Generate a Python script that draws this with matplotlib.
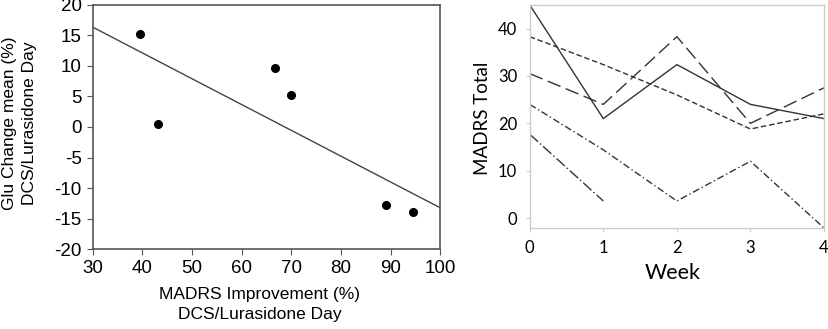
import numpy as np
import matplotlib.pyplot as plt

plt.rcParams['axes.unicode_minus'] = False

# left panel: MADRS improvement vs Glu change
madrs_impr = [39.5, 43.2, 66.7, 70.0, 89.0, 94.5]
glu_change = [15.3, 0.5, 9.7, 5.2, -12.8, -14.0]

# right panel: MADRS totals per week
weeks = [0, 1, 2, 3, 4]
subj_solid = [45.0, 21.0, 32.4, 24.0, 21.0]
subj_longdash = [30.5, 24.0, 38.3, 20.0, 27.5]
subj_shortdash = [38.3, 32.4, 26.0, 18.8, 22.0]
subj_dashdot = [24.0, 14.4, 3.6, 12.0, -2.1]
subj_dashdot2 = [17.7, 3.6]

fig = plt.figure(figsize=(8.29, 3.29), dpi=100)

# ---- left scatter ----
ax1 = fig.add_axes([0.112, 0.243, 0.419, 0.742])
ax1.plot(madrs_impr, glu_change, 'o', color='black', markersize=5.5)
slope, icpt = np.polyfit(madrs_impr, glu_change, 1)
xx = np.array([30, 100])
ax1.plot(xx, slope * xx + icpt, color='#444444', lw=1)
ax1.set_xlim(30, 100)
ax1.set_ylim(-20, 20)
ax1.set_xticks(range(30, 101, 10))
ax1.set_yticks(range(-20, 21, 5))
for s in ax1.spines.values():
    s.set_color('#555555')
    s.set_linewidth(1.2)
ax1.tick_params(labelsize=13.5, length=4, color='#555555', pad=4)
for lab in ax1.get_xticklabels() + ax1.get_yticklabels():
    lab.set_family('Liberation Sans')
ax1.set_ylabel('Glu Change mean (%)\nDCS/Lurasidone Day', fontsize=12.5,
               family='Liberation Sans', linespacing=1.45)
ax1.yaxis.set_label_coords(-0.16, 0.515)
ax1.set_xlabel('MADRS Improvement (%)\nDCS/Lurasidone Day', fontsize=12.5,
               family='Liberation Sans', linespacing=1.45)
ax1.xaxis.set_label_coords(0.48, -0.155)

# ---- right lines ----
ax2 = fig.add_axes([0.639, 0.307, 0.355, 0.678])
lc = '#333333'
ax2.plot(weeks, subj_solid, color=lc, lw=1)
ax2.plot(weeks, subj_longdash, color=lc, lw=1, dashes=(10, 4))
ax2.plot(weeks, subj_shortdash, color=lc, lw=1, dashes=(4, 2))
ax2.plot(weeks, subj_dashdot, color=lc, lw=1, dashes=(5, 2, 1, 2))
ax2.plot(weeks[:2], subj_dashdot2, color=lc, lw=1, dashes=(8, 2, 1, 2))
ax2.set_xlim(0, 4)
ax2.set_ylim(-2.1, 45)
ax2.set_xticks(weeks)
ax2.set_yticks([0, 10, 20, 30, 40])
for s in ax2.spines.values():
    s.set_color('#cccccc')
    s.set_linewidth(1)
ax2.tick_params(labelsize=12, length=3, color='#cccccc', pad=6)
for lab in ax2.get_xticklabels() + ax2.get_yticklabels():
    lab.set_family('Lato')
ax2.set_ylabel('MADRS Total', fontsize=13.5, family='Lato')
ax2.yaxis.set_label_coords(-0.13, 0.49)
ax2.set_xlabel('Week', fontsize=15.5, family='Lato')
ax2.xaxis.set_label_coords(0.486, -0.155)

fig.savefig('out.png', dpi=100)
